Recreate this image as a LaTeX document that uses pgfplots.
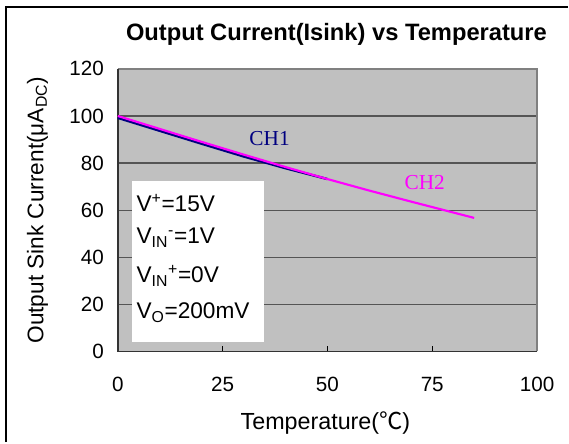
\documentclass[border=0pt]{standalone}
\usepackage{fontspec}
\setmainfont{Liberation Sans}
\newfontfamily\tnr{Liberation Serif}
\newfontfamily\cjk{Noto Sans CJK SC}
\usepackage{pgfplots}
\pgfplotsset{compat=1.18}
\usetikzlibrary{calc}

\definecolor{plotgray}{HTML}{C0C0C0}
\definecolor{gridgray}{HTML}{555555}
\definecolor{edgegray}{HTML}{808080}
\definecolor{ch1col}{HTML}{000080}
\definecolor{ch2col}{HTML}{FF00FF}

\newcommand{\fs}[1]{\fontsize{#1}{1.2\dimexpr#1\relax}\selectfont}

\begin{document}
\begin{tikzpicture}
\begin{axis}[
    name=ax, at={(0,0)}, anchor=south west,
    scale only axis, width=315pt, height=212.25pt,
    xmin=0, xmax=100, ymin=0, ymax=120,
    xtick={0,25,...,100}, ytick={0,20,...,120},
    ymajorgrids, major grid style={gridgray, line width=0.9pt},
    axis background/.style={fill=plotgray},
    axis line style={draw=none},
    tick align=inside, xtick pos=lower, major tick length=4pt,
    xtick style={black, line width=0.8pt},
    ytick style={draw=none},
    xticklabel style={anchor=base, yshift=-30pt, font=\fs{15.5pt}},
    yticklabel style={anchor=east, xshift=-7pt, font=\fs{15.5pt}},
    /pgf/number format/assume math mode=true,
    clip=false,
]
% chart frame
\draw[edgegray, line width=1.5pt] (rel axis cs:0,1) -- (rel axis cs:1,1) -- (rel axis cs:1,0);
\draw[black!80, line width=1.2pt] (rel axis cs:0,1) -- (rel axis cs:0,0) -- (rel axis cs:1,0);

\addplot[ch1col, line width=1.8pt] coordinates {
    (0,99.2) (10,93.7) (20,88.2) (30,82.8) (40,77.8) (50,73.2)
};
\addplot[ch2col, line width=1.6pt] coordinates {
    (0,100) (10,94.5) (20,89.0) (30,83.6) (40,78.3) (50,73.2) (60,68.3) (70,63.6) (80,59.0) (85,56.7)
};

\node[ch1col, font=\tnr\fs{16pt}] at (axis cs:36.2,90.4) {CH1};
\node[ch2col, font=\tnr\fs{16pt}] at (axis cs:73.2,71.9) {CH2};

\fill[white] (axis cs:3.3,3.8) rectangle (axis cs:34.8,72.2);
\begin{scope}[every node/.style={anchor=west, font=\fs{17pt}, inner sep=0pt}]
\node at (axis cs:4.4,63.1) {V\textsuperscript{+}=15V};
\node at (axis cs:4.4,48.3) {V\textsubscript{IN}\textsuperscript{-}=1V};
\node at (axis cs:4.4,32.2) {V\textsubscript{IN}\textsuperscript{+}=0V};
\node at (axis cs:4.4,16.5) {V\textsubscript{O}=200mV};
\end{scope}
\end{axis}

% title and axis labels
\node[anchor=base, font=\bfseries\fs{17.8pt}] at ([shift={(164.25pt,233.5pt)}]ax.south west)
    {Output Current(Isink) vs Temperature};
\node[anchor=base, font=\fs{17.5pt}] at ([shift={(156pt,-59pt)}]ax.south west)
    {Temperature({\cjk ℃})};
\node[anchor=base, rotate=90, font=\fs{17pt}] at ([shift={(-55.9pt,106.1pt)}]ax.south west)
    {Output Sink Current(μA\textsubscript{DC})};

% outer border (left and top only are visible)
\draw[black, line width=1.5pt] ([shift={(-84pt,-68.25pt)}]ax.south west)
    -- ([shift={(-84pt,258.75pt)}]ax.south west) -- ([shift={(338.25pt,258.75pt)}]ax.south west);
\useasboundingbox ([shift={(-88.5pt,-68.25pt)}]ax.south west)
    rectangle ([shift={(338.25pt,264pt)}]ax.south west);
\end{tikzpicture}
\end{document}
